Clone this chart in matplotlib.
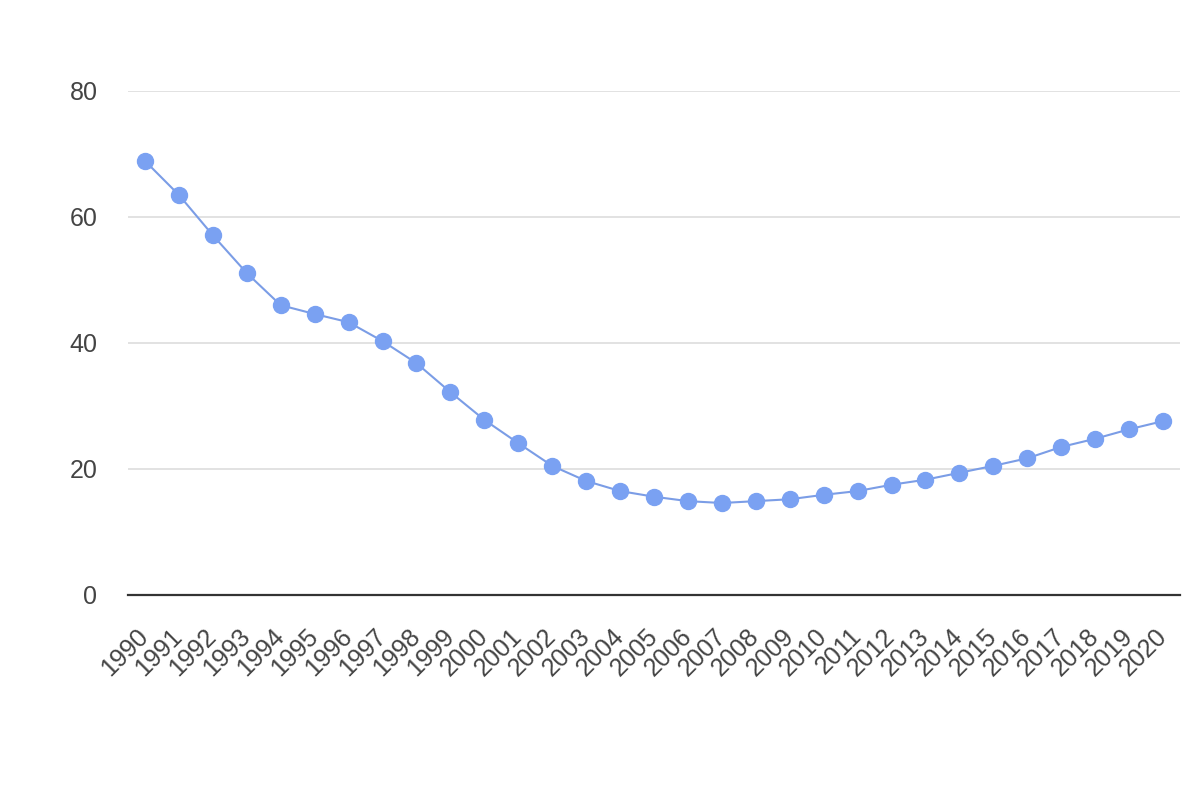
import matplotlib
matplotlib.use("Agg")
import matplotlib.pyplot as plt

years = [str(y) for y in range(1990, 2021)]
values = [68.9, 63.5, 57.1, 51.1, 46.0, 44.6, 43.3, 40.3, 36.8, 32.2, 27.8,
          24.1, 20.5, 18.1, 16.5, 15.6, 14.9, 14.6, 14.9, 15.2, 15.9, 16.5,
          17.5, 18.3, 19.4, 20.5, 21.7, 23.5, 24.8, 26.3, 27.6]
yticks = [0, 20, 40, 60, 80]

plt.rcParams['font.family'] = ['Liberation Sans', 'DejaVu Sans']

fig = plt.figure(figsize=(12, 8), dpi=100)
ax = fig.add_axes([128/1200, 1 - 595/800, (1180-128)/1200, (595-91)/800])
x = list(range(len(years)))
ax.plot(x, values, color='#7b9de6', lw=1.5, marker='o', markersize=11.5,
        markerfacecolor='#7aa1f2', markeredgecolor='#7aa1f2', zorder=3)
ax.set_xlim(-0.5, len(years) - 0.5)
ax.set_ylim(0, 80)
ax.set_yticks(yticks)
ax.set_yticklabels([str(v) for v in yticks])
ax.set_xticks(x)
ax.set_xticklabels(years, rotation=45, ha='right', va='center', rotation_mode='anchor')
ax.grid(axis='y', color='#dddddd', lw=1.2)
ax.set_axisbelow(True)
for s in ['top', 'right', 'left']:
    ax.spines[s].set_visible(False)
ax.spines['bottom'].set_color('#333333')
ax.spines['bottom'].set_linewidth(1.6)
ax.tick_params(axis='both', length=0, labelsize=18, colors='#444444')
ax.tick_params(axis='y', pad=22)
ax.tick_params(axis='x', pad=27)
fig.savefig('out.png', dpi=100, facecolor='white')
